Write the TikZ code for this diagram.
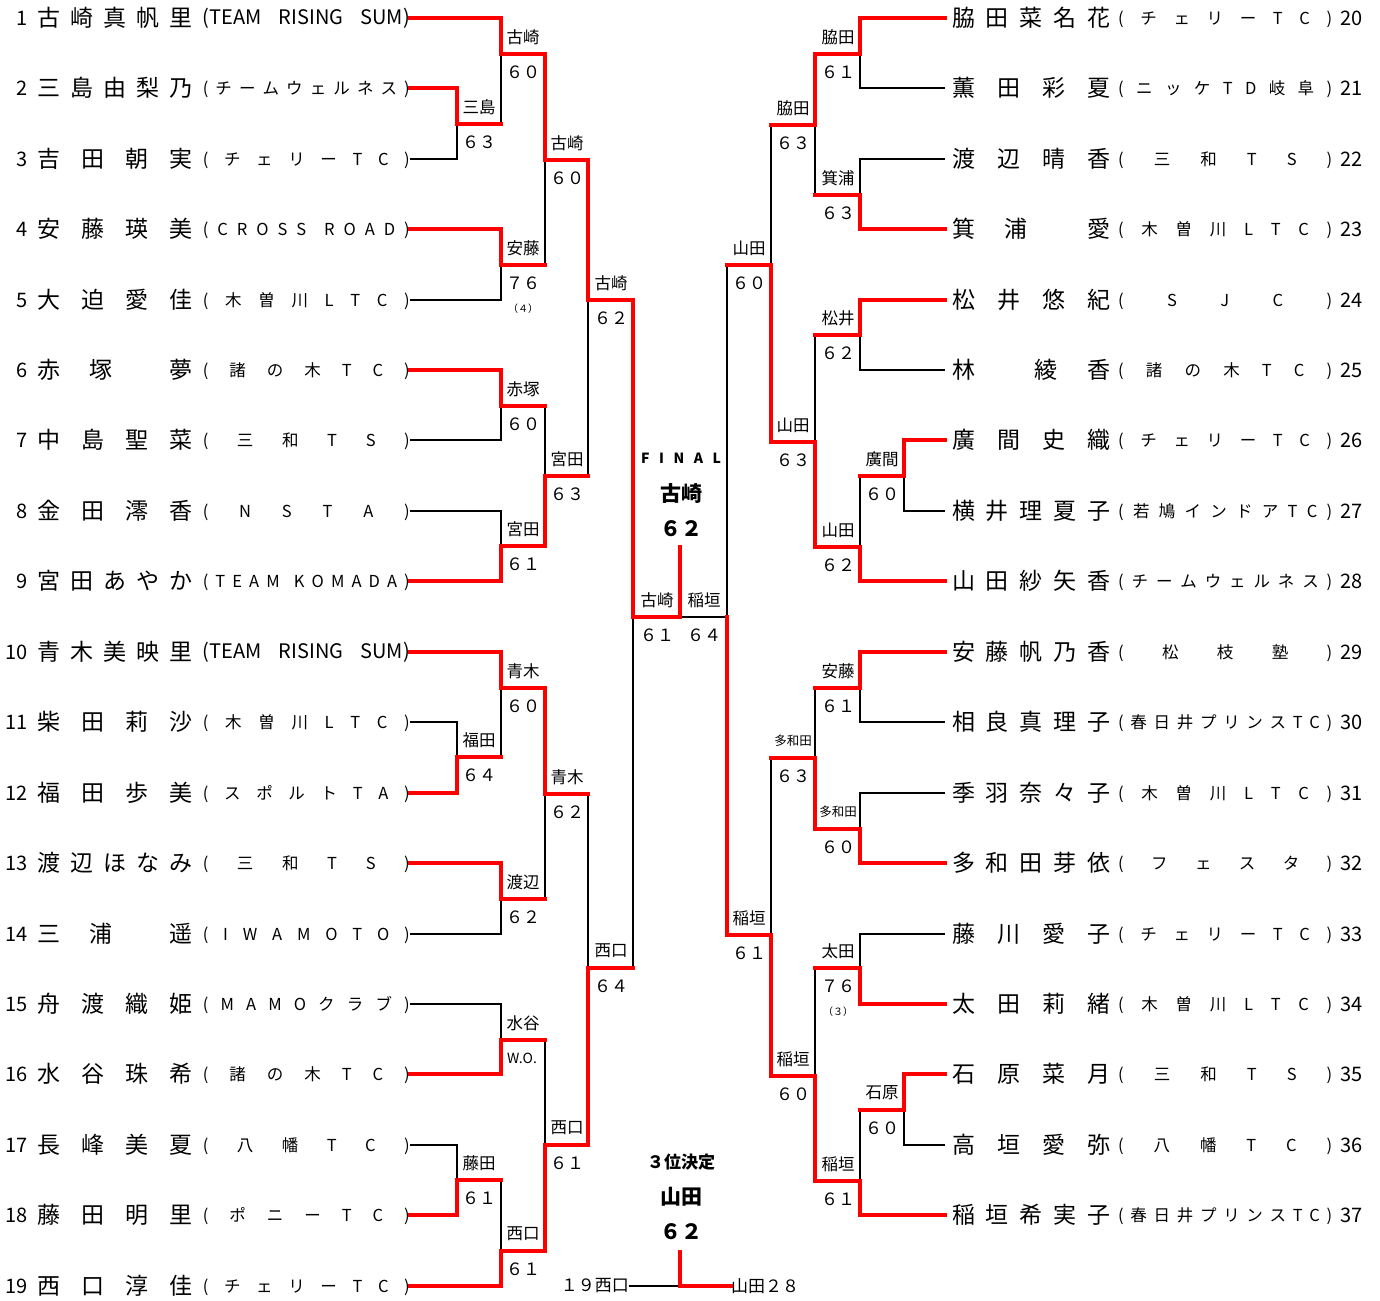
\documentclass[tikz,border=0pt]{standalone}
\usepackage{fontspec}
\setmainfont{Noto Sans CJK JP}
\makeatletter
\newcommand\spreadrow[2]{\makebox[#1][s]{\let\sp@sep\relax\@tfor\sp@item:=#2\do{\sp@sep\sp@item\def\sp@sep{\hfill}}}}
\makeatother
\newcommand\namefont{\fontsize{23pt}{26pt}\selectfont}
\newcommand\teamfont{\fontsize{16.5pt}{18pt}\selectfont}
\newcommand\rsfont{\fontsize{20pt}{22pt}\selectfont}
\newcommand\numfont{\fontsize{20pt}{22pt}\selectfont}
\newcommand\leftrow[3]{\makebox[20pt][r]{\numfont\raisebox{1.4pt}{#1}}\hspace{10pt}{\namefont\spreadrow{155pt}{#2}}\hspace{10pt}\raisebox{2.4pt}{\teamfont\spreadrow{207pt}{#3}}}
\newcommand\rightrow[3]{\hspace{7pt}{\namefont\spreadrow{158pt}{#2}}\hspace{8pt}\raisebox{2.4pt}{\teamfont\spreadrow{214pt}{#3}}\hspace{8pt}\makebox[22pt][l]{\numfont\raisebox{1.4pt}{#1}}}
\begin{document}
\begin{tikzpicture}[x=1pt,y=-1pt,
    win/.style={draw=red, line width=3.6pt, line cap=rect},
    loss/.style={draw=black, line width=1.8pt},
    row/.style={inner sep=0pt, text height=20pt, text depth=2.6pt},
    wn/.style={inner sep=0pt, font=\fontsize{16.5pt}{18pt}\selectfont},
    wsmall/.style={inner sep=0pt, font=\fontsize{12.5pt}{14pt}\selectfont},
    sc/.style={inner sep=0pt, font=\fontsize{17pt}{19pt}\selectfont},
    tie/.style={inner sep=0pt, font=\fontsize{10pt}{12pt}\selectfont},
    ctr/.style={inner sep=0pt, font=\bfseries\fontsize{21pt}{23pt}\selectfont}]
\useasboundingbox (0,0) rectangle (1380,1300);

% players, left
\node[row, anchor=east] (p1) at (410,18) {\leftrow{1}{古崎真帆里}{{\rsfont(TEAM}{RISING}{SUM)}}};
\node[row, anchor=east] (p2) at (410,88) {\leftrow{2}{三島由梨乃}{(チームウェルネス)}};
\node[row, anchor=east] (p3) at (410,159) {\leftrow{3}{吉田朝実}{(チェリーTC)}};
\node[row, anchor=east] (p4) at (410,229) {\leftrow{4}{安藤瑛美}{(CROSS{}ROAD)}};
\node[row, anchor=east] (p5) at (410,300) {\leftrow{5}{大迫愛佳}{(木曽川LTC)}};
\node[row, anchor=east] (p6) at (410,370) {\leftrow{6}{赤塚{}夢}{(諸の木TC)}};
\node[row, anchor=east] (p7) at (410,440) {\leftrow{7}{中島聖菜}{(三和TS)}};
\node[row, anchor=east] (p8) at (410,511) {\leftrow{8}{金田澪香}{(NSTA)}};
\node[row, anchor=east] (p9) at (410,581) {\leftrow{9}{宮田あやか}{(TEAM{}KOMADA)}};
\node[row, anchor=east] (p10) at (410,652) {\leftrow{10}{青木美映里}{{\rsfont(TEAM}{RISING}{SUM)}}};
\node[row, anchor=east] (p11) at (410,722) {\leftrow{11}{柴田莉沙}{(木曽川LTC)}};
\node[row, anchor=east] (p12) at (410,793) {\leftrow{12}{福田歩美}{(スポルトTA)}};
\node[row, anchor=east] (p13) at (410,863) {\leftrow{13}{渡辺ほなみ}{(三和TS)}};
\node[row, anchor=east] (p14) at (410,934) {\leftrow{14}{三浦{}遥}{(IWAMOTO)}};
\node[row, anchor=east] (p15) at (410,1004) {\leftrow{15}{舟渡織姫}{(MAMOクラブ)}};
\node[row, anchor=east] (p16) at (410,1074) {\leftrow{16}{水谷珠希}{(諸の木TC)}};
\node[row, anchor=east] (p17) at (410,1145) {\leftrow{17}{長峰美夏}{(八幡TC)}};
\node[row, anchor=east] (p18) at (410,1215) {\leftrow{18}{藤田明里}{(ポニーTC)}};
\node[row, anchor=east] (p19) at (410,1286) {\leftrow{19}{西口淳佳}{(チェリーTC)}};

% players, right
\node[row, anchor=west] (p20) at (945,18) {\rightrow{20}{脇田菜名花}{(チェリーTC)}};
\node[row, anchor=west] (p21) at (945,88) {\rightrow{21}{薫田彩夏}{(ニッケTD岐阜)}};
\node[row, anchor=west] (p22) at (945,159) {\rightrow{22}{渡辺晴香}{(三和TS)}};
\node[row, anchor=west] (p23) at (945,229) {\rightrow{23}{箕浦{}愛}{(木曽川LTC)}};
\node[row, anchor=west] (p24) at (945,300) {\rightrow{24}{松井悠紀}{(SJC)}};
\node[row, anchor=west] (p25) at (945,370) {\rightrow{25}{林{}綾香}{(諸の木TC)}};
\node[row, anchor=west] (p26) at (945,440) {\rightrow{26}{廣間史織}{(チェリーTC)}};
\node[row, anchor=west] (p27) at (945,511) {\rightrow{27}{横井理夏子}{(若鳩インドアTC)}};
\node[row, anchor=west] (p28) at (945,581) {\rightrow{28}{山田紗矢香}{(チームウェルネス)}};
\node[row, anchor=west] (p29) at (945,652) {\rightrow{29}{安藤帆乃香}{(松枝塾)}};
\node[row, anchor=west] (p30) at (945,722) {\rightrow{30}{相良真理子}{(春日井プリンスTC)}};
\node[row, anchor=west] (p31) at (945,793) {\rightrow{31}{季羽奈々子}{(木曽川LTC)}};
\node[row, anchor=west] (p32) at (945,863) {\rightrow{32}{多和田芽依}{(フェスタ)}};
\node[row, anchor=west] (p33) at (945,934) {\rightrow{33}{藤川愛子}{(チェリーTC)}};
\node[row, anchor=west] (p34) at (945,1004) {\rightrow{34}{太田莉緒}{(木曽川LTC)}};
\node[row, anchor=west] (p35) at (945,1074) {\rightrow{35}{石原菜月}{(三和TS)}};
\node[row, anchor=west] (p36) at (945,1145) {\rightrow{36}{高垣愛弥}{(八幡TC)}};
\node[row, anchor=west] (p37) at (945,1215) {\rightrow{37}{稲垣希実子}{(春日井プリンスTC)}};

% match points
\coordinate (a23) at (457,124);
\coordinate (a1) at (501,54);
\coordinate (a45) at (501,265);
\coordinate (b1) at (545,160);
\coordinate (a67) at (501,406);
\coordinate (a89) at (501,546);
\coordinate (b2) at (545,476);
\coordinate (c1) at (588,300);
\coordinate (a1112) at (457,757);
\coordinate (a10) at (501,688);
\coordinate (a1314) at (501,899);
\coordinate (b3) at (545,794);
\coordinate (a1516) at (501,1040);
\coordinate (a1718) at (457,1180);
\coordinate (a19) at (501,1251);
\coordinate (b4) at (545,1145);
\coordinate (c2) at (588,968);
\coordinate (sf1) at (633,617);
\coordinate (fin) at (680,547);
\coordinate (sf2) at (727,617);
\coordinate (d1) at (771,265);
\coordinate (s1) at (815,125);
\coordinate (r1) at (860,54);
\coordinate (r2) at (860,195);
\coordinate (s2) at (815,442);
\coordinate (r3) at (860,335);
\coordinate (r4) at (904,476);
\coordinate (r5) at (860,547);
\coordinate (d2) at (771,935);
\coordinate (s3) at (815,758);
\coordinate (r6) at (860,688);
\coordinate (r7) at (860,829);
\coordinate (s4) at (815,1076);
\coordinate (r8) at (860,968);
\coordinate (r9) at (904,1110);
\coordinate (r10) at (860,1181);
\coordinate (th) at (680,1252);

% third place
\node[sc, anchor=east] (t19) at (629,1286) {１９西口};
\node[sc, anchor=west] (t28) at (731,1286) {山田２８};

% losers
\draw[loss] (p3) -| (a23);
\draw[loss] (a23 -| a1) -- (a1);
\draw[loss] (p5) -| (a45);
\draw[loss] (a45 -| b1) -- (b1);
\draw[loss] (p7) -| (a67);
\draw[loss] (p8) -| (a89);
\draw[loss] (a67 -| b2) -- (b2);
\draw[loss] (b2 -| c1) -- (c1);
\draw[loss] (p11) -| (a1112);
\draw[loss] (a1112 -| a10) -- (a10);
\draw[loss] (p14) -| (a1314);
\draw[loss] (a1314 -| b3) -- (b3);
\draw[loss] (p15) -| (a1516);
\draw[loss] (p17) -| (a1718);
\draw[loss] (a1718 -| a19) -- (a19);
\draw[loss] (a1516 -| b4) -- (b4);
\draw[loss] (b3 -| c2) -- (c2);
\draw[loss] (c2 -| sf1) -- (sf1);
\draw[loss] (p21) -| (r1);
\draw[loss] (p22) -| (r2);
\draw[loss] (r2 -| s1) -- (s1);
\draw[loss] (p25) -| (r3);
\draw[loss] (p27) -| (r4);
\draw[loss] (r4 -| r5) -- (r5);
\draw[loss] (r3 -| s2) -- (s2);
\draw[loss] (s1 -| d1) -- (d1);
\draw[loss] (p30) -| (r6);
\draw[loss] (p31) -| (r7);
\draw[loss] (r6 -| s3) -- (s3);
\draw[loss] (p33) -| (r8);
\draw[loss] (p36) -| (r9);
\draw[loss] (r9 -| r10) -- (r10);
\draw[loss] (r8 -| s4) -- (s4);
\draw[loss] (s3 -| d2) -- (d2);
\draw[loss] (d1 -| sf2) -- (sf2);
\draw[loss] (sf2) -- (sf1 -| fin);
\draw[loss] (t19) -- (t19 -| th);

% winners
\draw[win] (p2) -| (a23);
\draw[win] (p1) -| (a1);
\draw[win] (a23) -- (a23 -| a1);
\draw[win] (p4) -| (a45);
\draw[win] (a1) -| (b1);
\draw[win] (a45) -- (a45 -| b1);
\draw[win] (p6) -| (a67);
\draw[win] (p9) -| (a89);
\draw[win] (a89) -| (b2);
\draw[win] (a67) -- (a67 -| b2);
\draw[win] (b1) -| (c1);
\draw[win] (b2) -- (b2 -| c1);
\draw[win] (p12) -| (a1112);
\draw[win] (p10) -| (a10);
\draw[win] (a1112) -- (a1112 -| a10);
\draw[win] (p13) -| (a1314);
\draw[win] (a10) -| (b3);
\draw[win] (a1314) -- (a1314 -| b3);
\draw[win] (p16) -| (a1516);
\draw[win] (p18) -| (a1718);
\draw[win] (p19) -| (a19);
\draw[win] (a1718) -- (a1718 -| a19);
\draw[win] (a19) -| (b4);
\draw[win] (a1516) -- (a1516 -| b4);
\draw[win] (b4) -| (c2);
\draw[win] (b3) -- (b3 -| c2);
\draw[win] (c1) -| (sf1);
\draw[win] (c2) -- (c2 -| sf1);
\draw[win] (sf1) -| (fin);
\draw[win] (p20) -| (r1);
\draw[win] (p23) -| (r2);
\draw[win] (r1) -| (s1);
\draw[win] (r2) -- (r2 -| s1);
\draw[win] (p24) -| (r3);
\draw[win] (p26) -| (r4);
\draw[win] (p28) -| (r5);
\draw[win] (r4) -- (r4 -| r5);
\draw[win] (r5) -| (s2);
\draw[win] (r3) -- (r3 -| s2);
\draw[win] (s2) -| (d1);
\draw[win] (s1) -- (s1 -| d1);
\draw[win] (p29) -| (r6);
\draw[win] (p32) -| (r7);
\draw[win] (r7) -| (s3);
\draw[win] (r6) -- (r6 -| s3);
\draw[win] (p34) -| (r8);
\draw[win] (p35) -| (r9);
\draw[win] (p37) -| (r10);
\draw[win] (r9) -- (r9 -| r10);
\draw[win] (r10) -| (s4);
\draw[win] (r8) -- (r8 -| s4);
\draw[win] (s4) -| (d2);
\draw[win] (s3) -- (s3 -| d2);
\draw[win] (d2) -| (sf2);
\draw[win] (d1) -- (d1 -| sf2);
\draw[win] (t28) -| (th);

% results, left
\node[wn] (a23n) at (479,107) {三島};
\node[sc] (a23s) at (479,142) {６３};
\node[wn] (a1n) at (523,37) {古崎};
\node[sc] (a1s) at (523,72) {６０};
\node[wn] (a45n) at (523,248) {安藤};
\node[sc] (a45s) at (523,283) {７６};
\node[tie] (a45t) at (523,309) {（４）};
\node[wn] (b1n) at (567,143) {古崎};
\node[sc] (b1s) at (567,178) {６０};
\node[wn] (a67n) at (523,389) {赤塚};
\node[sc] (a67s) at (523,424) {６０};
\node[wn] (a89n) at (523,529) {宮田};
\node[sc] (a89s) at (523,564) {６１};
\node[wn] (b2n) at (567,459) {宮田};
\node[sc] (b2s) at (567,494) {６３};
\node[wn] (c1n) at (611,283) {古崎};
\node[sc] (c1s) at (611,318) {６２};
\node[wn] (a10n) at (523,671) {青木};
\node[sc] (a10s) at (523,706) {６０};
\node[wn] (a1112n) at (479,740) {福田};
\node[sc] (a1112s) at (479,775) {６４};
\node[wn] (b3n) at (567,777) {青木};
\node[sc] (b3s) at (567,812) {６２};
\node[wn] (a1314n) at (523,882) {渡辺};
\node[sc] (a1314s) at (523,917) {６２};
\node[wn] (c2n) at (611,951) {西口};
\node[sc] (c2s) at (611,986) {６４};
\node[wn] (a1516n) at (523,1023) {水谷};
\node[inner sep=0pt, font=\fontsize{14pt}{16pt}\selectfont] (a1516s) at (522,1058) {W.O.};
\node[wn] (b4n) at (567,1128) {西口};
\node[sc] (b4s) at (567,1163) {６１};
\node[wn] (a1718n) at (479,1163) {藤田};
\node[sc] (a1718s) at (479,1198) {６１};
\node[wn] (a19n) at (523,1234) {西口};
\node[sc] (a19s) at (523,1269) {６１};

% results, right
\node[wn] (r1n) at (838,37) {脇田};
\node[sc] (r1s) at (838,72) {６１};
\node[wn] (s1n) at (793,108) {脇田};
\node[sc] (s1s) at (793,143) {６３};
\node[wn] (r2n) at (838,178) {箕浦};
\node[sc] (r2s) at (838,213) {６３};
\node[wn] (d1n) at (749,248) {山田};
\node[sc] (d1s) at (749,283) {６０};
\node[wn] (r3n) at (838,318) {松井};
\node[sc] (r3s) at (838,353) {６２};
\node[wn] (s2n) at (793,425) {山田};
\node[sc] (s2s) at (793,460) {６３};
\node[wn] (r4n) at (882,459) {廣間};
\node[sc] (r4s) at (882,494) {６０};
\node[wn] (r5n) at (838,530) {山田};
\node[sc] (r5s) at (838,565) {６２};
\node[wn] (r6n) at (838,671) {安藤};
\node[sc] (r6s) at (838,706) {６１};
\node[wsmall] (s3n) at (793,741) {多和田};
\node[sc] (s3s) at (793,776) {６３};
\node[wsmall] (r7n) at (838,812) {多和田};
\node[sc] (r7s) at (838,847) {６０};
\node[wn] (d2n) at (749,918) {稲垣};
\node[sc] (d2s) at (749,953) {６１};
\node[wn] (r8n) at (838,951) {太田};
\node[sc] (r8s) at (838,986) {７６};
\node[tie] (r8t) at (838,1012) {（３）};
\node[wn] (s4n) at (793,1059) {稲垣};
\node[sc] (s4s) at (793,1094) {６０};
\node[wn] (r9n) at (882,1093) {石原};
\node[sc] (r9s) at (882,1128) {６０};
\node[wn] (r10n) at (838,1164) {稲垣};
\node[sc] (r10s) at (838,1199) {６１};

% semifinals and final
\node[wn] (sf1n) at (657,600) {古崎};
\node[sc] (sf1s) at (657,635) {６１};
\node[wn] (sf2n) at (704,600) {稲垣};
\node[sc] (sf2s) at (704,635) {６４};
\node[inner sep=0pt, font=\bfseries\fontsize{14pt}{16pt}\selectfont] (fttl) at (681,458) {\spreadrow{80pt}{FINAL}};
\node[ctr] (fwin) at (681,494) {古崎};
\node[ctr] (fsc) at (681,529) {６２};
\node[inner sep=0pt, font=\bfseries\fontsize{17pt}{19pt}\selectfont] (tttl) at (681,1162) {３位決定};
\node[ctr] (twin) at (681,1197) {山田};
\node[ctr] (tsc) at (681,1232) {６２};
\end{tikzpicture}
\end{document}
